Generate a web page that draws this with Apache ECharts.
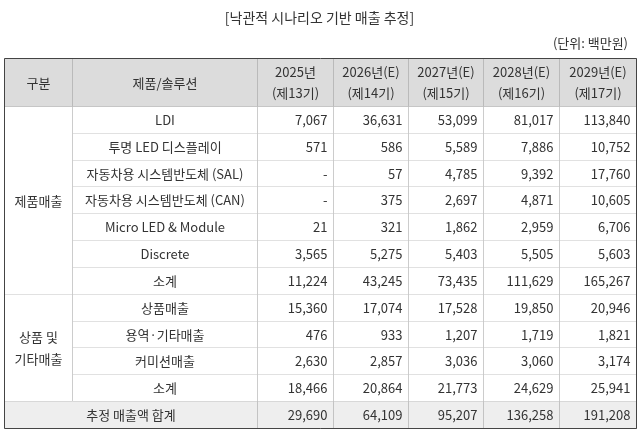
<!DOCTYPE html>
<html>
<head>
<meta charset="utf-8">
<script src="https://cdn.jsdelivr.net/npm/echarts@6/dist/echarts.min.js"></script>
<style>
  html, body { margin: 0; padding: 0; background: #fff; }
  #table { width: 639px; height: 433px; }
</style>
</head>
<body>
<div id="table"></div>
<script>
// 표 데이터
var titleText = '[낙관적 시나리오 기반 매출 추정]';
var unitText = '(단위: 백만원)';
var headCat = '구분';
var headItem = '제품/솔루션';
var yearLabels = ['2025년', '2026년(E)', '2027년(E)', '2028년(E)', '2029년(E)'];
var periodLabels = ['(제13기)', '(제14기)', '(제15기)', '(제16기)', '(제17기)'];

var productGroup = '제품매출';
var productItems = ['LDI', '투명 LED 디스플레이', '자동차용 시스템반도체 (SAL)', '자동차용 시스템반도체 (CAN)', 'Micro LED & Module', 'Discrete', '소계'];
var ldi = [7067, 36631, 53099, 81017, 113840];
var ledDisplay = [571, 586, 5589, 7886, 10752];
var sal = [null, 57, 4785, 9392, 17760];
var can = [null, 375, 2697, 4871, 10605];
var microLed = [21, 321, 1862, 2959, 6706];
var discrete = [3565, 5275, 5403, 5505, 5603];
var productSub = [11224, 43245, 73435, 111629, 165267];

var otherGroup = '상품 및\n기타매출';
var otherItems = ['상품매출', '용역·기타매출', '커미션매출', '소계'];
var goods = [15360, 17074, 17528, 19850, 20946];
var service = [476, 933, 1207, 1719, 1821];
var commission = [2630, 2857, 3036, 3060, 3174];
var otherSub = [18466, 20864, 21773, 24629, 25941];

var totalLabel = '추정 매출액 합계';
var totalValues = [29690, 64109, 95207, 136258, 191208];

// 레이아웃 (축 단위)
var colEdges = [0, 68, 253, 329, 404, 479, 555, 632];
var headH = 48;
var rowH = 26.83;
var headBg = '#dcdcdc';
var totalBg = '#eeeeee';
var fontKr = 'Noto Sans CJK KR';

function fmt(v) {
    return v == null ? '-' : v.toLocaleString('en-US');
}

function rowTop(i) { return headH + i * rowH; }

var cells = [];
function addCell(c0, c1, r0, r1, text, align, fill, lineH) {
    cells.push({
        value: [colEdges[c0], colEdges[c1], r0, r1],
        text: text, align: align, fill: fill || '#fff', lineH: lineH || 16
    });
}

// 머리글
addCell(0, 1, 0, headH, headCat, 'center', headBg);
addCell(1, 2, 0, headH, headItem, 'center', headBg);
for (var j = 0; j < yearLabels.length; j++) {
    addCell(j + 2, j + 3, 0, headH, yearLabels[j] + '\n' + periodLabels[j], 'center', headBg, 21);
}

function addSection(startRow, group, items, rows) {
    addCell(0, 1, rowTop(startRow), rowTop(startRow + items.length), group, 'center', '#fff', 22);
    for (var i = 0; i < items.length; i++) {
        var r = startRow + i;
        addCell(1, 2, rowTop(r), rowTop(r + 1), items[i], 'center');
        for (var k = 0; k < rows[i].length; k++) {
            addCell(k + 2, k + 3, rowTop(r), rowTop(r + 1), fmt(rows[i][k]), 'right');
        }
    }
}

addSection(0, productGroup, productItems, [ldi, ledDisplay, sal, can, microLed, discrete, productSub]);
addSection(7, otherGroup, otherItems, [goods, service, commission, otherSub]);

addCell(0, 2, rowTop(11), rowTop(12), totalLabel, 'center', totalBg);
for (var t = 0; t < totalValues.length; t++) {
    addCell(t + 2, t + 3, rowTop(11), rowTop(12), fmt(totalValues[t]), 'right', totalBg);
}

var tableBottom = rowTop(12);

var chart = echarts.init(document.getElementById('table'));

var option = {
    animation: false,
    title: [
        {
            text: titleText, left: 'center', top: 6,
            textStyle: { fontSize: 14, fontWeight: 'normal', color: '#333', fontFamily: fontKr }
        },
        {
            text: unitText, right: 6, top: 32,
            textStyle: { fontSize: 13, fontWeight: 'normal', color: '#333', fontFamily: fontKr }
        }
    ],
    grid: { left: 4, top: 58, width: 632, height: tableBottom, containLabel: false },
    xAxis: { type: 'value', min: 0, max: 632, show: false },
    yAxis: { type: 'value', min: 0, max: tableBottom, inverse: true, show: false },
    series: [
        {
            type: 'custom',
            coordinateSystem: 'cartesian2d',
            encode: { x: [0, 1], y: [2, 3] },
            data: cells,
            renderItem: function (params, api) {
                var cell = cells[params.dataIndex];
                var p0 = api.coord([api.value(0), api.value(2)]);
                var p1 = api.coord([api.value(1), api.value(3)]);
                var x0 = Math.round(p0[0]) + 0.5, y0 = Math.round(p0[1]) + 0.5;
                var x1 = Math.round(p1[0]) + 0.5, y1 = Math.round(p1[1]) + 0.5;
                var hColor = api.value(2) === 0 ? '#8c8c8c' : '#c2c2c2';
                var tx = cell.align === 'right' ? x1 - 6 : (x0 + x1) / 2;
                return {
                    type: 'group',
                    children: [
                        { type: 'rect', shape: { x: x0, y: y0, width: x1 - x0, height: y1 - y0 }, style: { fill: cell.fill } },
                        { type: 'line', shape: { x1: x0, y1: y1, x2: x1, y2: y1 }, style: { stroke: hColor, lineWidth: 1 } },
                        { type: 'line', shape: { x1: x1, y1: y0, x2: x1, y2: y1 }, style: { stroke: '#999', lineWidth: 1 } },
                        {
                            type: 'text',
                            style: {
                                text: cell.text, x: tx, y: (y0 + y1) / 2 + 0.5,
                                align: cell.align, verticalAlign: 'middle',
                                fontSize: 13, lineHeight: cell.lineH,
                                fontFamily: fontKr, fill: '#333'
                            }
                        }
                    ]
                };
            }
        },
        {
            type: 'custom',
            coordinateSystem: 'cartesian2d',
            encode: { x: [0, 1], y: [2, 3] },
            data: [[0, 632, 0, tableBottom]],
            z: 5,
            renderItem: function (params, api) {
                var p0 = api.coord([api.value(0), api.value(2)]);
                var p1 = api.coord([api.value(1), api.value(3)]);
                var x0 = Math.round(p0[0]) + 0.5, y0 = Math.round(p0[1]) + 0.5;
                var x1 = Math.round(p1[0]) + 0.5, y1 = Math.round(p1[1]) + 0.5;
                return {
                    type: 'rect',
                    shape: { x: x0, y: y0, width: x1 - x0, height: y1 - y0 },
                    style: { fill: 'none', stroke: '#444', lineWidth: 1 }
                };
            }
        }
    ]
};

chart.setOption(option);
</script>
</body>
</html>
